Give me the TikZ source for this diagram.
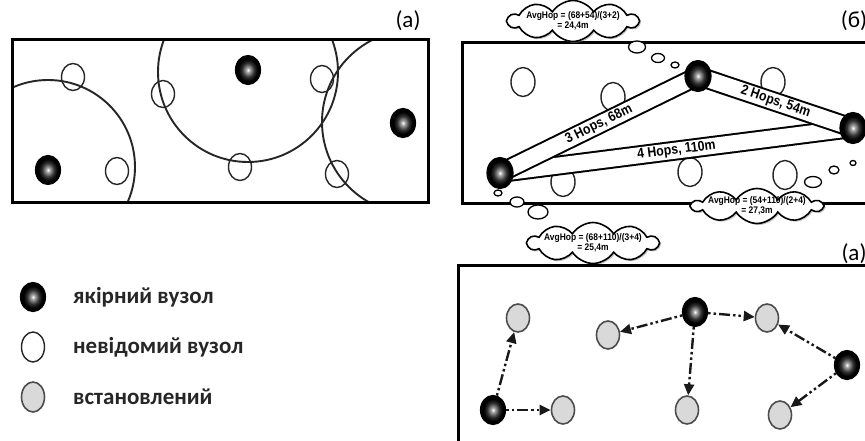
\documentclass[tikz,border=0pt]{standalone}
\usepackage{fontspec}
\setmainfont{Carlito}
\newfontfamily\narrowfont[FakeStretch=0.88]{Liberation Sans}
\usetikzlibrary{shapes.geometric,shapes.symbols,arrows.meta,shadows}
\pgfdeclareradialshading{anchorball}{\pgfpoint{0bp}{0bp}}{color(0bp)=(white); color(4bp)=(black!35); color(12bp)=(black!80); color(19bp)=(black); color(50bp)=(black)}
\tikzset{
  frame/.style={line width=3pt, draw=black},
  bigcircle/.style={line width=1.9pt, draw=black!85},
  unk/.style={ellipse, draw=black!85, line width=1.4pt, minimum width=23pt, minimum height=27pt, inner sep=0pt},
  unkw/.style={unk, fill=white, minimum height=29pt, minimum width=24pt},
  anc/.style={ellipse, draw=black, line width=1.2pt, minimum width=25pt, minimum height=29pt, inner sep=0pt, shading=anchorball},
  est/.style={ellipse, draw=black!70, line width=1.6pt, fill=black!15, minimum width=23pt, minimum height=28pt, inner sep=0pt},
  bubble/.style={ellipse, draw=black, line width=1.3pt, fill=white, inner sep=0pt},
  thought/.style={cloud, cloud puffs=10, cloud puff arc=115, cloud ignores aspect, draw=black, line width=1.6pt, fill=white, inner sep=0pt,
    drop shadow={shadow xshift=1.5pt, shadow yshift=-1.5pt, fill=black!45}},
  cloudtext/.style={font=\narrowfont\bfseries\fontsize{9.6}{10}\selectfont, align=center, inner sep=0pt},
  stripout/.style={line width=20pt, draw=black},
  stripin/.style={line width=16pt, draw=white},
  hoplabel/.style={font=\narrowfont\bfseries\fontsize{14}{14}\selectfont, sloped, midway, inner sep=0pt},
  arr/.style={-{Triangle[length=11pt,width=10pt]}, line width=2.4pt, draw=black!90,
    dash pattern=on 2.5pt off 3pt on 2.5pt off 3pt on 11pt off 3pt},
  lbl/.style={font=\fontsize{23}{23}\selectfont, inner sep=0pt},
  legendtext/.style={anchor=west, font=\bfseries\fontsize{23}{23}\selectfont, text=black!85, inner sep=0pt}
}
\begin{document}
\begin{tikzpicture}[x=1pt,y=-1pt]
\useasboundingbox (0,0) rectangle (865,441);
\fill[white] (0,0) rectangle (865,441);

% ---------------- panel (a), top left
\node[lbl] (la) at (408,21) {(a)};
\begin{scope}
  \clip (12,40) rectangle (428,202);
  \draw[bigcircle] (48,167) circle (87);
  \draw[bigcircle] (248,72) circle (90);
  \draw[bigcircle] (414,122) circle (92);
\end{scope}
\draw[frame] (12,40) rectangle (428,202);
\node[unk] (u1) at (73,77) {};
\node[unk] (u2) at (117,171) {};
\node[unk] (u3) at (163,94) {};
\node[unk] (u4) at (240,167) {};
\node[unk] (u5) at (322,79) {};
\node[unk] (u6) at (337,174) {};
\node[anc] (a1) at (48,170) {};
\node[anc] (a2) at (248,70) {};
\node[anc] (a3) at (403,123) {};

% ---------------- panel (б), top right
\node[lbl] (lb) at (854,21) {(б)};
\draw[frame] (462,43) rectangle (885,203);
\node[unkw] (v1) at (523,82) {};
\node[unkw] (v2) at (613,97) {};
\node[unkw] (v3) at (773,82) {};
\node[unkw] (v4) at (563,182) {};
\node[unkw] (v5) at (690,172) {};
\node[unkw] (v6) at (785,175) {};
\coordinate (bA) at (500,173);
\coordinate (bB) at (698,76);
\coordinate (bC) at (853,128);
\draw[stripout] (bA) -- (bC);
\draw[stripin] (bA) -- (bC) node[hoplabel] {4 Hops, 110m};
\draw[stripout] (bA) -- (bB);
\draw[stripin] (bA) -- (bB) node[hoplabel] {3 Hops, 68m};
\draw[stripout] (bB) -- (bC);
\draw[stripin] (bB) -- (bC) node[hoplabel] {2 Hops, 54m};
\node[anc, minimum width=26pt, minimum height=31pt] (b1) at (bA) {};
\node[anc, minimum width=26pt, minimum height=31pt] (b2) at (bB) {};
\node[anc, minimum width=26pt, minimum height=31pt] (b3) at (bC) {};

% thought bubbles
\node[bubble, minimum width=17pt, minimum height=12pt] (t1a) at (637,47) {};
\node[bubble, minimum width=13pt, minimum height=9pt] (t1b) at (658,58) {};
\node[bubble, minimum width=8pt, minimum height=6pt] (t1c) at (675,65) {};
\node[thought, minimum width=130pt, minimum height=41pt] (c1) at (573,21) {};
\node[cloudtext] (c1t) at (c1) {AvgHop = (68+54)/(3+2)\\= 24,4m};

\node[bubble, minimum width=17pt, minimum height=11pt] (t2a) at (813,182) {};
\node[bubble, minimum width=10pt, minimum height=8pt] (t2b) at (834,170) {};
\node[bubble, minimum width=6pt, minimum height=5pt] (t2c) at (853,163) {};
\node[thought, minimum width=130pt, minimum height=35pt] (c2) at (757,206) {};
\node[cloudtext] (c2t) at (c2) {AvgHop = (54+110)/(2+4)\\= 27,3m};

\node[bubble, minimum width=8pt, minimum height=6pt] (t3a) at (498,193) {};
\node[bubble, minimum width=14pt, minimum height=10pt] (t3b) at (517,202) {};
\node[bubble, minimum width=20pt, minimum height=14pt] (t3c) at (538,212) {};
\node[thought, minimum width=130pt, minimum height=41pt] (c3) at (593,243) {};
\node[cloudtext] (c3t) at (c3) {AvgHop = (68+110)/(3+4)\\= 25,4m};

% ---------------- panel (a), bottom right
\node[lbl] (lc) at (854,254) {(a)};
\draw[frame] (458,265) rectangle (885,455);
\node[est] (e1) at (518,318) {};
\node[est] (e2) at (608,335) {};
\node[est] (e3) at (767,318) {};
\node[est] (e4) at (780,415) {};
\node[est] (e5) at (687,410) {};
\node[est] (e6) at (563,410) {};
\node[anc] (d1) at (493,410) {};
\node[anc] (d2) at (695,312) {};
\node[anc] (d3) at (847,365) {};
\draw[arr] (d1) -- (e1);
\draw[arr] (d1) -- (e6);
\draw[arr] (d2) -- (e2);
\draw[arr] (d2) -- (e3);
\draw[arr] (d2) -- (e5);
\draw[arr] (d3) -- (e3);
\draw[arr] (d3) -- (e4);

% ---------------- legend
\node[anc] (g1) at (33,297) {};
\node[unk, minimum height=30pt] (g2) at (33,347) {};
\node[est, minimum height=30pt] (g3) at (33,397) {};
\node[legendtext] (g1t) at (73,297) {якірний вузол};
\node[legendtext] (g2t) at (73,347) {невідомий вузол};
\node[legendtext] (g3t) at (73,397) {встановлений};
\end{tikzpicture}
\end{document}
